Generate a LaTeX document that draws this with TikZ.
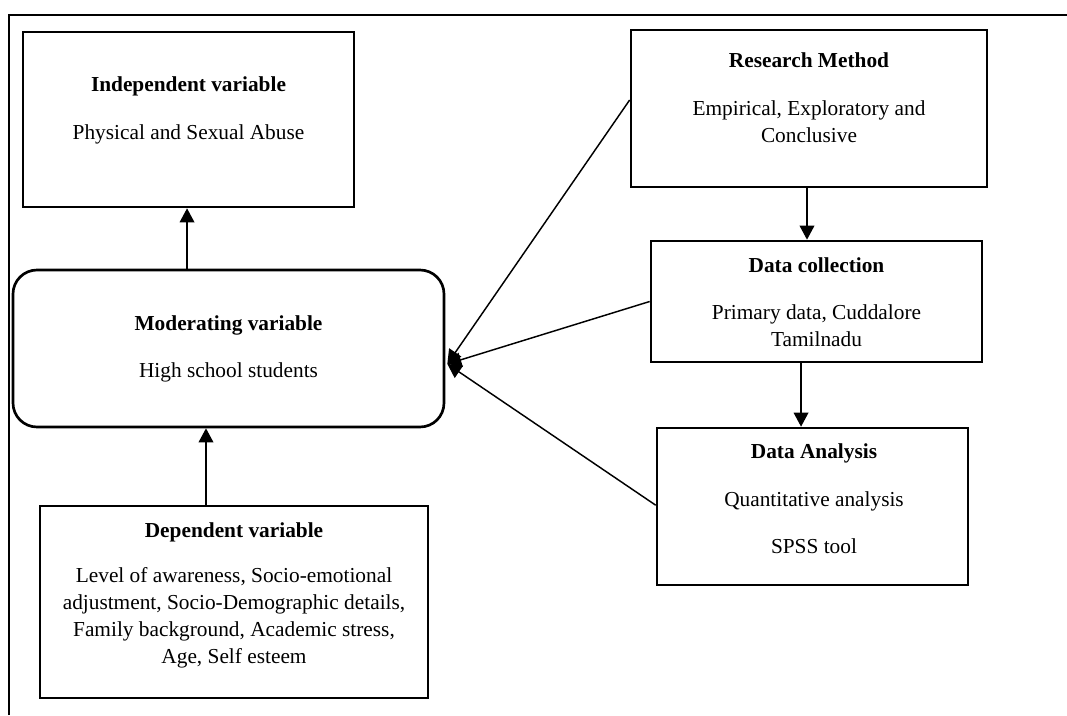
\documentclass[tikz,border=0pt]{standalone}
\usepackage{fontspec}
\setmainfont{Liberation Serif}
\usetikzlibrary{arrows.meta,fit}
\begin{document}
\begin{tikzpicture}[x=0.75pt,y=-0.75pt,
  box/.style={draw, line width=2pt, inner sep=0pt},
  txt/.style={anchor=base, inner sep=0pt, font=\fontsize{16}{18}\selectfont},
  ttl/.style={anchor=base, inner sep=0pt, font=\fontsize{16}{18}\selectfont\bfseries},
  conn/.style={line width=1.1pt, -{Triangle[length=10.5pt,width=11pt]}}]
\useasboundingbox (0,0) rectangle (1067,715);
\draw[line width=1.3pt] (9,715) -- (9,15) -- (1067,15);

% boxes
\node[box, fit={(23,32) (354,207)}] (ind) {};
\node[box, rounded corners=18pt, fit={(13,270) (444,427)}] (mod) {};
\node[box, fit={(40,506) (428,698)}] (dep) {};
\node[box, fit={(631,30) (987,187)}] (rm) {};
\node[box, fit={(651,241) (982,362)}] (dc) {};
\node[box, fit={(657,428) (968,585)}] (da) {};

% texts
\node[ttl] (indT) at (188.5,91) {Independent variable};
\node[txt] (indB) at (188.5,139) {Physical and Sexual Abuse};

\node[ttl] (modT) at (228.5,330) {Moderating variable};
\node[txt] (modB) at (228.5,377) {High school students};

\node[ttl] (depT) at (234,537) {Dependent variable};
\node[txt] (dep1) at (234,582) {Level of awareness, Socio-emotional};
\node[txt] (dep2) at (234,609) {adjustment, Socio-Demographic details,};
\node[txt] (dep3) at (234,636) {Family background, Academic stress,};
\node[txt] (dep4) at (234,663) {Age, Self esteem};

\node[ttl] (rmT) at (809,67) {Research Method};
\node[txt] (rm1) at (809,115) {Empirical, Exploratory and};
\node[txt] (rm2) at (809,142) {Conclusive};

\node[ttl] (dcT) at (816.5,272) {Data collection};
\node[txt] (dc1) at (816.5,319) {Primary data, Cuddalore};
\node[txt] (dc2) at (816.5,346) {Tamilnadu};

\node[ttl] (daT) at (814,458) {Data Analysis};
\node[txt] (da1) at (814,506) {Quantitative analysis};
\node[txt] (da2) at (814,553) {SPSS tool};

% connectors
\draw[conn] ([xshift=-1.1pt]ind.south |- mod.north) -- ([xshift=-1.1pt]ind.south);
\draw[conn] ([xshift=-21pt]dep.north) -- ([xshift=-21pt]dep.north |- mod.south);
\draw[conn] ([xshift=-1.5pt]rm.south) -- ([xshift=-1.5pt]rm.south |- dc.north);
\draw[conn] ([xshift=-11.6pt]dc.south) -- ([xshift=-11.6pt]dc.south |- da.north);

\coordinate (tip) at ([xshift=1.5pt,yshift=-11.6pt]mod.east);
\draw[conn] ([yshift=6.4pt]rm.west) -- (tip);
\draw[conn] (dc.west) -- (tip);
\draw[conn] ([yshift=1pt]da.west) -- (tip);
\end{tikzpicture}
\end{document}
